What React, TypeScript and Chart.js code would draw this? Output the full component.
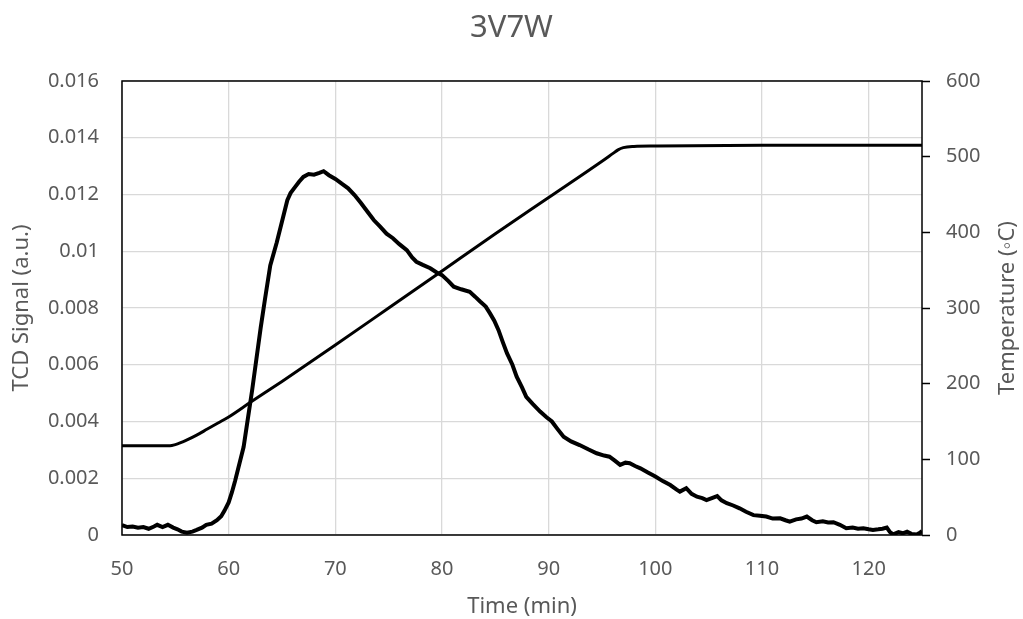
import React, { useEffect, useRef } from "react";
import { Chart, registerables } from "chart.js";

Chart.register(...registerables);

const chartTitle = "3V7W";
const xAxisTitle = "Time (min)";
const leftAxisTitle = "TCD Signal (a.u.)";
const rightAxisTitle = "Temperature (\u25E6C)";

const xTicks = { min: 50, max: 125, step: 10 };
const leftTicks = { min: 0, max: 0.016, step: 0.002 };
const rightTicks = { min: 0, max: 600, step: 100 };

const tcdTime = [
  50.0, 50.5, 51.0, 51.5, 52.0, 52.5, 53.0, 53.3, 53.8, 54.3, 54.8, 55.2, 55.6, 56.1, 56.6, 57.0,
  57.5, 57.9, 58.4, 58.9, 59.3, 59.6, 60.0, 60.3, 60.6, 61.0, 61.4, 61.8, 62.2, 62.6, 63.0, 63.4,
  63.9, 64.5, 65.1, 65.5, 65.8, 66.2, 66.6, 67.0, 67.5, 68.0, 68.5, 68.9, 69.4, 70.0, 70.6, 71.2,
  71.8, 72.4, 73.0, 73.6, 74.2, 74.8, 75.4, 76.0, 76.7, 77.2, 77.6, 78.2, 78.9, 79.5, 80.0, 80.6,
  81.1, 81.8, 82.6, 83.1, 83.6, 84.1, 84.5, 84.9, 85.3, 85.7, 86.1, 86.6, 87.0, 87.5, 87.9, 88.5,
  89.2, 89.8, 90.3, 90.8, 91.4, 92.1, 92.9, 93.7, 94.5, 95.2, 95.7, 96.2, 96.7, 97.2, 97.6, 98.1,
  98.6, 99.3, 100.0, 100.7, 101.4, 102.0, 102.3, 102.9, 103.4, 103.9, 104.4, 104.8, 105.3, 105.8,
  106.2, 106.7, 107.3, 107.9, 108.5, 109.2, 109.8, 110.4, 111.0, 111.7, 112.2, 112.6, 113.2, 113.7,
  114.2, 114.7, 115.1, 115.7, 116.2, 116.7, 117.3, 117.9, 118.5, 119.0, 119.5, 120.0, 120.4, 120.9,
  121.3, 121.7, 122.0, 122.3, 122.8, 123.2, 123.6, 124.0, 124.5, 124.8, 125.0,
];

const tcdSignal = [
  0.00035, 0.00028, 0.0003, 0.00026, 0.00028, 0.00022, 0.0003, 0.00036, 0.00028, 0.00036, 0.00026,
  0.0002, 0.00012, 0.00008, 0.00012, 0.00018, 0.00026, 0.00036, 0.0004, 0.00052, 0.00066, 0.00085,
  0.00115, 0.0015, 0.0019, 0.0025, 0.0031, 0.0041, 0.0051, 0.0062, 0.0073, 0.0083, 0.0095, 0.0103,
  0.0112, 0.0118, 0.01205, 0.01225, 0.01245, 0.01262, 0.01272, 0.0127, 0.01276, 0.01282, 0.01268,
  0.01255, 0.01238, 0.01222, 0.01198, 0.0117, 0.0114, 0.0111, 0.01087, 0.01062, 0.01046, 0.01025,
  0.01004, 0.00978, 0.00963, 0.00952, 0.0094, 0.00925, 0.00916, 0.00895, 0.00875, 0.00866, 0.00857,
  0.0084, 0.00822, 0.00805, 0.00781, 0.00755, 0.00722, 0.0068, 0.0064, 0.006, 0.00558, 0.0052,
  0.00487, 0.00462, 0.00435, 0.00415, 0.004, 0.00375, 0.00346, 0.0033, 0.00317, 0.00302, 0.00288,
  0.0028, 0.00276, 0.00262, 0.00247, 0.00255, 0.00253, 0.00243, 0.00235, 0.0022, 0.00206, 0.0019,
  0.00176, 0.0016, 0.00153, 0.00165, 0.00145, 0.00135, 0.0013, 0.00123, 0.0013, 0.00137, 0.00122,
  0.00112, 0.00104, 0.00094, 0.00082, 0.0007, 0.00068, 0.00065, 0.00058, 0.00059, 0.00052, 0.00047,
  0.00055, 0.00058, 0.00065, 0.00052, 0.00045, 0.00048, 0.00044, 0.00045, 0.00036, 0.00024, 0.00026,
  0.00022, 0.00024, 0.0002, 0.00018, 0.0002, 0.00022, 0.00026, 0.0001, 0.00002, 0.0001, 0.00006,
  0.00012, 0.00004, 0.00002, 0.00008, 0.00014,
];

const tempTime = [
  50, 54.5, 55, 55.5, 56, 57, 58, 59, 60, 62, 65, 70, 75, 80, 85, 90, 95, 96, 96.5, 97, 98, 100, 110, 125,
];
const tempValue = [
  118, 118, 119.5, 122, 125, 132, 140, 148, 156, 175, 203, 251, 300, 349, 398, 446, 494, 504, 509, 512,
  513.5, 514, 515, 515,
];

const FONT = "'Noto Sans', 'Open Sans', sans-serif";
const GREY = "#595959";

export default function App() {
  const canvasRef = useRef<HTMLCanvasElement | null>(null);

  useEffect(() => {
    document.body.style.margin = "0";
    const canvas = canvasRef.current;
    if (!canvas) return;

    const framePlugin = {
      id: "frame",
      beforeDatasetsDraw(chart: any) {
        const { ctx, chartArea } = chart;
        ctx.save();
        ctx.strokeStyle = "#000000";
        ctx.lineWidth = 1.5;
        ctx.strokeRect(
          chartArea.left,
          chartArea.top,
          chartArea.right - chartArea.left,
          chartArea.bottom - chartArea.top
        );
        ctx.restore();
      },
      afterDraw(chart: any) {
        const { ctx, chartArea } = chart;
        ctx.save();
        ctx.fillStyle = GREY;
        ctx.font = `22px ${FONT}`;
        ctx.textAlign = "center";
        ctx.textBaseline = "middle";
        ctx.translate(1008, (chartArea.top + chartArea.bottom) / 2);
        ctx.rotate(-Math.PI / 2);
        ctx.fillText(rightAxisTitle, 0, 0);
        ctx.restore();
      },
    };

    const chart = new Chart(canvas, {
      type: "line",
      data: {
        datasets: [
          {
            label: "TCD",
            data: tcdTime.map((t, i) => ({ x: t, y: tcdSignal[i] })),
            borderColor: "#000000",
            borderWidth: 4,
            pointRadius: 0,
            tension: 0,
            yAxisID: "y",
          },
          {
            label: "Temperature",
            data: tempTime.map((t, i) => ({ x: t, y: tempValue[i] })),
            borderColor: "#000000",
            borderWidth: 3,
            pointRadius: 0,
            tension: 0.3,
            cubicInterpolationMode: "monotone",
            yAxisID: "y1",
          },
        ],
      },
      options: {
        animation: false,
        responsive: false,
        devicePixelRatio: 1,
        layout: { padding: 0 },
        plugins: {
          legend: { display: false },
          tooltip: { enabled: false },
          title: {
            display: true,
            text: chartTitle,
            color: GREY,
            font: { family: FONT, size: 31, weight: "normal" },
            padding: { top: 10, bottom: 33.8 },
          },
        },
        scales: {
          x: {
            type: "linear",
            position: "bottom",
            min: xTicks.min,
            max: xTicks.max,
            afterFit(scale: any) {
              scale.height = 84;
            },
            ticks: {
              stepSize: xTicks.step,
              includeBounds: false,
              color: GREY,
              font: { family: FONT, size: 20 },
              padding: 22,
              maxRotation: 0,
            },
            grid: { color: "#d9d9d9", lineWidth: 1.3, drawTicks: false },
            border: { display: false },
            title: {
              display: true,
              text: xAxisTitle,
              color: GREY,
              font: { family: FONT, size: 22, lineHeight: 1.1 },
              padding: { top: 0, bottom: 0 },
            },
          },
          y: {
            type: "linear",
            position: "left",
            min: leftTicks.min,
            max: leftTicks.max,
            afterFit(scale: any) {
              scale.width = 122;
            },
            ticks: {
              stepSize: leftTicks.step,
              color: GREY,
              font: { family: FONT, size: 20 },
              padding: 23,
              callback: (v: any) => String(Number(Number(v).toFixed(3))),
            },
            grid: { color: "#d9d9d9", lineWidth: 1.3, drawTicks: false },
            border: { display: false },
            title: {
              display: true,
              text: leftAxisTitle,
              color: GREY,
              font: { family: FONT, size: 22, lineHeight: 1.1 },
              padding: { top: 10, bottom: 0 },
            },
          },
          y1: {
            type: "linear",
            position: "right",
            min: rightTicks.min,
            max: rightTicks.max,
            afterFit(scale: any) {
              scale.width = 101;
            },
            ticks: {
              stepSize: rightTicks.step,
              color: GREY,
              font: { family: FONT, size: 20 },
              padding: 16,
            },
            grid: {
              display: true,
              drawOnChartArea: false,
              drawTicks: true,
              tickLength: 8,
              tickColor: "#000000",
              tickWidth: 1.5,
              color: "#000000",
            },
            border: { display: false },
          },
        },
      } as any,
      plugins: [framePlugin],
    });

    return () => chart.destroy();
  }, []);

  return (
    <div style={{ width: 1023, height: 619, background: "#ffffff" }}>
      <canvas ref={canvasRef} width={1023} height={619} />
    </div>
  );
}
